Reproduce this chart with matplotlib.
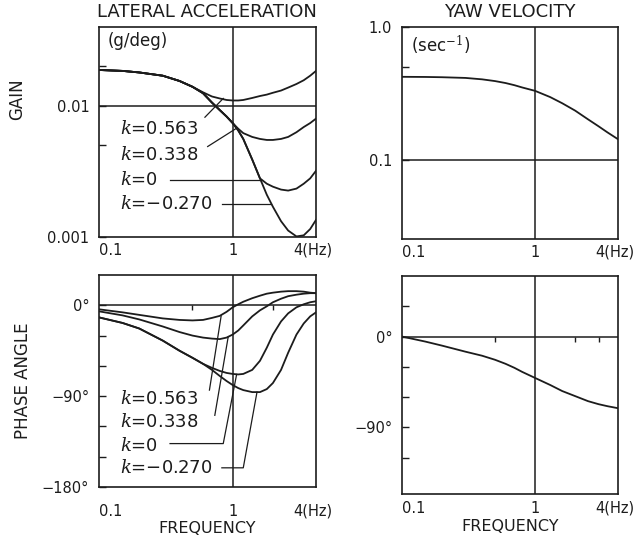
import matplotlib
matplotlib.use("Agg")
import matplotlib.pyplot as plt

plt.rcParams["font.family"] = ["DejaVu Sans"]
plt.rcParams["mathtext.fontset"] = "dejavuserif"

INK = "#1c1c1c"
FIG_W, FIG_H = 641, 549

# ---- data ----
freq = [0.1, 0.15, 0.2, 0.3, 0.4, 0.5, 0.6, 0.7, 0.8, 0.9, 1.0, 1.1, 1.2,
        1.4, 1.6, 1.8, 2.0, 2.3, 2.6, 3.0, 3.4, 3.8, 4.2]
k_labels = ["0.563", "0.338", "0", "\u22120.270"]

# lateral acceleration gain (g/deg)
lat_gain = {
    "0.563": [0.0188, 0.0185, 0.0180, 0.0170, 0.0155, 0.0140, 0.0127, 0.0118, 0.0114,
              0.0111, 0.0110, 0.0110, 0.0111, 0.0115, 0.0119, 0.0122, 0.0126, 0.0131,
              0.0138, 0.0147, 0.0157, 0.0170, 0.0185],
    "0.338": [0.0188, 0.0185, 0.0180, 0.0170, 0.0155, 0.0140, 0.0125, 0.0106, 0.0093,
              0.0083, 0.0074, 0.0067, 0.0062, 0.0058, 0.0056, 0.0055, 0.0055, 0.0056,
              0.0058, 0.0063, 0.0069, 0.0074, 0.0080],
    "0": [0.0188, 0.0185, 0.0180, 0.0170, 0.0155, 0.0140, 0.0125, 0.0106, 0.0093,
          0.0083, 0.0074, 0.0065, 0.0056, 0.0039, 0.0028, 0.00255, 0.00242, 0.0023,
          0.00226, 0.00234, 0.00255, 0.0028, 0.0032],
    "\u22120.270": [0.0188, 0.0185, 0.0180, 0.0170, 0.0155, 0.0140, 0.0125, 0.0106, 0.0093,
                    0.0083, 0.0074, 0.0065, 0.0056, 0.0039, 0.0028, 0.0021, 0.0017, 0.00132,
                    0.00112, 0.00101, 0.00103, 0.00115, 0.00135],
}

# lateral acceleration phase (deg)
lat_phase = {
    "0.563": [-4, -7, -9.5, -13, -14.5, -15, -14.5, -12.5, -10.5, -6.5, -2, 1, 3.5,
              7, 9.5, 11.5, 12.5, 13.5, 14, 14, 13.5, 12.5, 12],
    "0.338": [-6, -10, -14, -21, -26.5, -30, -32, -33, -33.5, -32, -29, -25, -20,
              -11, -5, -1, 3, 6.5, 9, 10.5, 11.5, 12, 12],
    "0": [-12, -17.5, -23, -35, -45, -52, -58, -62, -65, -67, -68, -68.5, -68,
          -64, -55, -42, -29, -16, -8, -2, 1, 3, 4],
    "\u22120.270": [-12, -17.5, -23, -35, -45, -52, -58, -64, -70, -75, -79, -82, -84,
                    -86, -86, -83, -77, -64, -47, -29, -18, -11, -7],
}

yaw_freq = [0.1, 0.15, 0.2, 0.3, 0.4, 0.5, 0.6, 0.7, 0.8, 1.0, 1.3, 1.6, 2.0, 2.5, 3.0, 3.5, 4.2]
yaw_gain = [0.423, 0.422, 0.420, 0.415, 0.405, 0.393, 0.380, 0.366, 0.352, 0.332, 0.298,
            0.268, 0.236, 0.203, 0.180, 0.162, 0.144]
yaw_phase = [0, -5, -9, -15, -19, -23, -27, -31, -35, -41, -48, -54, -59, -64, -67, -69, -71]

# annotation placement (data coords)
label_x = 0.143
gain_label_y = [0.0067, 0.0042, 0.0027, 0.0018]
gain_leaders = [([0.62, 0.85], [0.0082, 0.0114]),
                ([0.65, 1.08], [0.0049, 0.0068]),
                ([0.34, 1.64], [0.0027, 0.0027]),
                ([0.83, 1.92], [0.0018, 0.0018])]
phase_label_y = [-93, -116, -139, -161]
phase_leaders = [([0.67, 0.82], [-84, -10.5]),
                 ([0.735, 0.925], [-109, -31.5]),
                 ([0.34, 0.85, 1.07], [-137, -137, -68.5]),
                 ([0.83, 1.2, 1.52], [-161, -161, -86])]


def add_axes_px(fig, x0, y0, x1, y1):
    return fig.add_axes([x0 / FIG_W, 1 - y1 / FIG_H, (x1 - x0) / FIG_W, (y1 - y0) / FIG_H])


def style_axes(ax, xpad):
    ax.set_xscale("log")
    ax.set_xlim(0.1, 4.2)
    ax.set_xticks([0.1, 1, 4])
    ax.set_xticklabels(["0.1", "1", "4(Hz)"])
    ax.xaxis.set_minor_locator(matplotlib.ticker.NullLocator())
    ax.tick_params(axis="x", length=0, pad=xpad, labelsize=10.5, colors=INK)
    ax.tick_params(axis="y", which="both", direction="in", length=5, width=1,
                   pad=7, labelsize=10.5, colors=INK)
    ax.get_xticklabels()[0].set_horizontalalignment("left")
    for s in ax.spines.values():
        s.set_linewidth(1.2)
        s.set_color(INK)
    ax.axvline(1, color=INK, lw=1.1)


fig = plt.figure(figsize=(FIG_W / 100, FIG_H / 100), dpi=100)

# --- lateral gain ---
ax = add_axes_px(fig, 99, 27, 316, 237)
style_axes(ax, 4)
ax.set_yscale("log")
ax.set_ylim(0.001, 0.04)
ax.yaxis.set_major_locator(matplotlib.ticker.FixedLocator([0.001, 0.005, 0.01, 0.02]))
ax.yaxis.set_minor_locator(matplotlib.ticker.NullLocator())
ax.set_yticklabels(["0.001", "", "0.01", ""])
ax.axhline(0.01, color=INK, lw=1.1)
for k in k_labels:
    ax.plot(freq, lat_gain[k], color=INK, lw=1.3)
for k, y, (lx, ly) in zip(k_labels, gain_label_y, gain_leaders):
    ax.text(label_x, y, r"$k$=" + k, fontsize=13, va="center", ha="left", color=INK)
    ax.plot(lx, ly, color=INK, lw=0.9)
ax.text(0.04, 0.935, "(g/deg)", transform=ax.transAxes, fontsize=12, va="center", color=INK)

# --- yaw gain ---
ax = add_axes_px(fig, 402, 27, 618, 239)
style_axes(ax, 4)
ax.set_yscale("log")
ax.set_ylim(0.0257, 1.0)
ax.yaxis.set_major_locator(matplotlib.ticker.FixedLocator([0.1, 0.5, 1.0]))
ax.yaxis.set_minor_locator(matplotlib.ticker.NullLocator())
ax.set_yticklabels(["0.1", "", "1.0"])
ax.axhline(0.1, color=INK, lw=1.1)
ax.plot(yaw_freq, yaw_gain, color=INK, lw=1.3)
ax.text(0.04, 0.915, r"(sec$^{-1}$)", transform=ax.transAxes, fontsize=12, va="center", color=INK)

# --- lateral phase ---
ax = add_axes_px(fig, 99, 275, 316, 487)
style_axes(ax, 12)
ax.set_ylim(-180, 30)
ax.set_yticks([0, -30, -60, -90, -120, -150, -180])
ax.set_yticklabels(["0\u00b0", "", "", "\u221290\u00b0", "", "", "\u2212180\u00b0"])
ax.axhline(0, color=INK, lw=1.1)
ax.vlines([0.5, 2.0], -5, 0, color=INK, lw=1)
for k in k_labels:
    ax.plot(freq, lat_phase[k], color=INK, lw=1.3)
for k, y, (lx, ly) in zip(k_labels, phase_label_y, phase_leaders):
    ax.text(label_x, y, r"$k$=" + k, fontsize=13, va="center", ha="left", color=INK)
    ax.plot(lx, ly, color=INK, lw=0.9)
ax.set_xlabel("FREQUENCY", fontsize=11.5, color=INK, labelpad=2)

# --- yaw phase ---
ax = add_axes_px(fig, 402, 276, 618, 494)
style_axes(ax, 5)
ax.set_ylim(-156, 60)
ax.set_yticks([30, 0, -30, -60, -90, -120])
ax.set_yticklabels(["", "0\u00b0", "", "", "\u221290\u00b0", ""])
ax.axhline(0, color=INK, lw=1.1)
ax.vlines([0.5, 2.0, 3.0], -5, 0, color=INK, lw=1)
ax.plot(yaw_freq, yaw_phase, color=INK, lw=1.3)
ax.set_xlabel("FREQUENCY", fontsize=11.5, color=INK, labelpad=2)

# titles and side labels
fig.text(207 / FIG_W, 1 - 12 / FIG_H, "LATERAL ACCELERATION", ha="center", va="center",
         fontsize=13, color=INK)
fig.text(510 / FIG_W, 1 - 12 / FIG_H, "YAW VELOCITY", ha="center", va="center",
         fontsize=13, color=INK)
fig.text(17 / FIG_W, 1 - 99 / FIG_H, "GAIN", rotation=90, ha="center", va="center",
         fontsize=12, color=INK)
fig.text(23 / FIG_W, 1 - 381 / FIG_H, "PHASE ANGLE", rotation=90, ha="center", va="center",
         fontsize=12, color=INK)

fig.savefig("out.png", dpi=100)
